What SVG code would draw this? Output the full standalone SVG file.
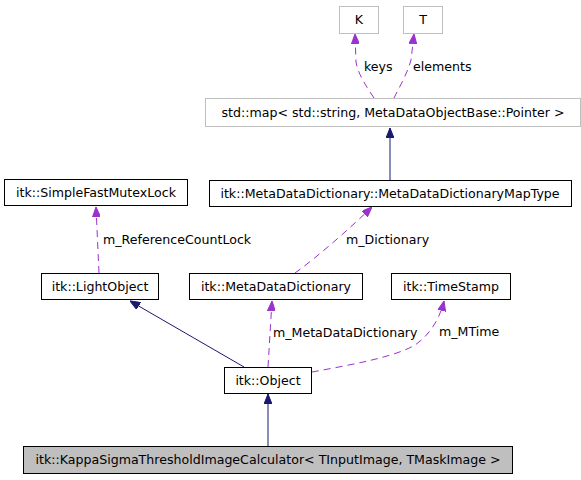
<svg xmlns="http://www.w3.org/2000/svg" width="581" height="480" viewBox="0 0 581 480">
<style>
text{font-family:"DejaVu Sans",sans-serif;font-size:12.6px;fill:#000}
.box{fill:#fff;stroke:#000;stroke-width:1}
.gbox{fill:#fff;stroke:#bfbfbf;stroke-width:1}
.cur{fill:#bfbfbf;stroke:#000;stroke-width:1}
.c{text-anchor:middle}
.inh{fill:none;stroke:#191970;stroke-width:1}
.use{fill:none;stroke:#9a32cd;stroke-width:1;stroke-dasharray:7,5}
</style>
<defs>
<marker id="ab" viewBox="0 0 10 8" refX="10" refY="4" markerWidth="10" markerHeight="8" markerUnits="userSpaceOnUse" orient="auto"><path d="M0,0 L10,4 L0,8 z" fill="#191970" stroke="#191970"/></marker>
<marker id="ap" viewBox="0 0 10 8" refX="10" refY="4" markerWidth="10" markerHeight="8" markerUnits="userSpaceOnUse" orient="auto"><path d="M0,0 L10,4 L0,8 z" fill="#9a32cd" stroke="#9a32cd"/></marker>
</defs>
<g id="edges">
<path class="inh" d="M390,180 L390,128" marker-end="url(#ab)"/>
<path class="use" d="M374,98 C366,86 358,74 356,62 L355,34" marker-end="url(#ap)"/>
<path class="use" d="M394,98 C400,86 408,72 411,60 L414,34" marker-end="url(#ap)"/>
<path class="use" d="M99,273 L96,207" marker-end="url(#ap)"/>
<path class="use" d="M295,273 C320,255 350,228 372,207" marker-end="url(#ap)"/>
<path class="inh" d="M244,367 L130,301" marker-end="url(#ab)"/>
<path class="use" d="M268,367 L272,301" marker-end="url(#ap)"/>
<path class="use" d="M312,372 C350,365 395,357 415,345 C430,335 440,318 444,301" marker-end="url(#ap)"/>
<path class="inh" d="M268,446 L268,394" marker-end="url(#ab)"/>
<text x="364" y="71">keys</text>
<text x="413" y="71">elements</text>
<text x="103" y="244">m_ReferenceCountLock</text>
<text x="346" y="244">m_Dictionary</text>
<text x="273" y="337">m_MetaDataDictionary</text>
<text x="439" y="336">m_MTime</text>
</g>
<g id="K"><rect class="gbox" x="339.5" y="6.5" width="39" height="27"/><text class="c" x="359" y="24">K</text></g>
<g id="T"><rect class="gbox" x="403.5" y="6.5" width="39" height="27"/><text class="c" x="423" y="24">T</text></g>
<g id="stdmap"><rect class="gbox" x="205.5" y="98.5" width="375" height="28"/><text class="c" x="393" y="117">std::map&lt; std::string, MetaDataObjectBase::Pointer &gt;</text></g>
<g id="MapType"><rect class="box" x="209.5" y="180.5" width="362" height="26"/><text class="c" x="390" y="198">itk::MetaDataDictionary::MetaDataDictionaryMapType</text></g>
<g id="SimpleFastMutexLock"><rect class="box" x="4.5" y="179.5" width="183" height="26"/><text class="c" x="96" y="197">itk::SimpleFastMutexLock</text></g>
<g id="LightObject"><rect class="box" x="41.5" y="273.5" width="117" height="26"/><text class="c" x="100" y="291">itk::LightObject</text></g>
<g id="MetaDataDictionary"><rect class="box" x="189.5" y="273.5" width="173" height="26"/><text class="c" x="276" y="291">itk::MetaDataDictionary</text></g>
<g id="TimeStamp"><rect class="box" x="391.5" y="273.5" width="119" height="26"/><text class="c" x="451" y="291">itk::TimeStamp</text></g>
<g id="Object"><rect class="box" x="224.5" y="367.5" width="87" height="26"/><text class="c" x="268" y="385">itk::Object</text></g>
<g id="Kappa"><rect class="cur" x="23.5" y="446.5" width="489" height="27"/><text class="c" x="268" y="464">itk::KappaSigmaThresholdImageCalculator&lt; TInputImage, TMaskImage &gt;</text></g>
</svg>
